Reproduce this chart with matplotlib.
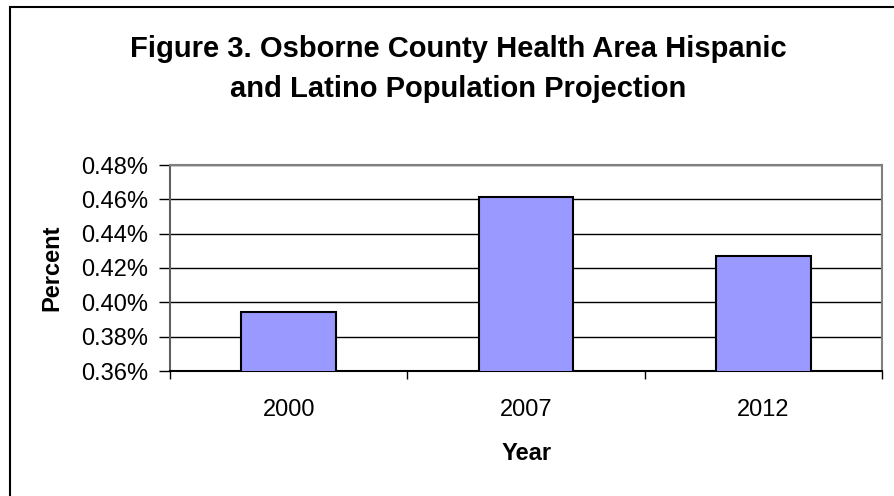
import matplotlib.pyplot as plt
from matplotlib.patches import Rectangle
from matplotlib.ticker import FuncFormatter, FixedLocator

plt.rcParams['font.family'] = ['Liberation Sans', 'DejaVu Sans']

years = ['2000', '2007', '2012']
percent = [0.3945, 0.4612, 0.4272]  # in percent units

title = 'Figure 3. Osborne County Health Area Hispanic\nand Latino Population Projection'
bar_color = '#9999FF'

W, H = 894, 496
fig = plt.figure(figsize=(W / 100, H / 100), dpi=100)

# outer chart border (cut off at the right and bottom in the original)
fig.patches.append(Rectangle((10 / W, -0.2), 1.5, 1.2 - 7 / H, transform=fig.transFigure,
                             fill=False, edgecolor='black', linewidth=1.5))

ax = fig.add_axes([170 / W, 1 - 371 / H, (882 - 170) / W, (371 - 165) / H])

x = list(range(len(years)))
ax.bar(x, percent, width=0.4, color=bar_color, edgecolor='black', linewidth=1.5, zorder=3)

ax.set_xlim(-0.5, len(years) - 0.5)
ax.set_ylim(0.36, 0.48)
ax.set_yticks([0.36, 0.38, 0.40, 0.42, 0.44, 0.46, 0.48])
ax.yaxis.set_major_formatter(FuncFormatter(lambda v, p: f'{v:.2f}%'))
ax.yaxis.grid(True, color='black', linewidth=1.0, zorder=0)

ax.set_xticks(x)
ax.set_xticklabels(years)
ax.xaxis.set_minor_locator(FixedLocator([-0.5, 0.5, 1.5, 2.5]))
ax.tick_params(axis='x', which='major', length=0, pad=20, labelsize=17)
ax.tick_params(axis='x', which='minor', length=6, width=1, color='black')
ax.tick_params(axis='y', length=8, width=1, pad=8, labelsize=17)

for side in ['top', 'right']:
    ax.spines[side].set_color('#808080')
    ax.spines[side].set_linewidth(1.5)
ax.spines['left'].set_color('#606060')
ax.spines['left'].set_linewidth(1.5)
ax.spines['bottom'].set_color('black')
ax.spines['bottom'].set_linewidth(1.5)

fig.text(458 / W, 1 - 69 / H, title, ha='center', va='center', fontsize=21,
         fontweight='bold', linespacing=1.55)
fig.text(52 / W, 1 - 268 / H, 'Percent', ha='center', va='center', rotation=90,
         fontsize=17, fontweight='bold')
fig.text(527 / W, 1 - 453 / H, 'Year', ha='center', va='center', fontsize=17,
         fontweight='bold')

fig.savefig('out.png', dpi=100)
